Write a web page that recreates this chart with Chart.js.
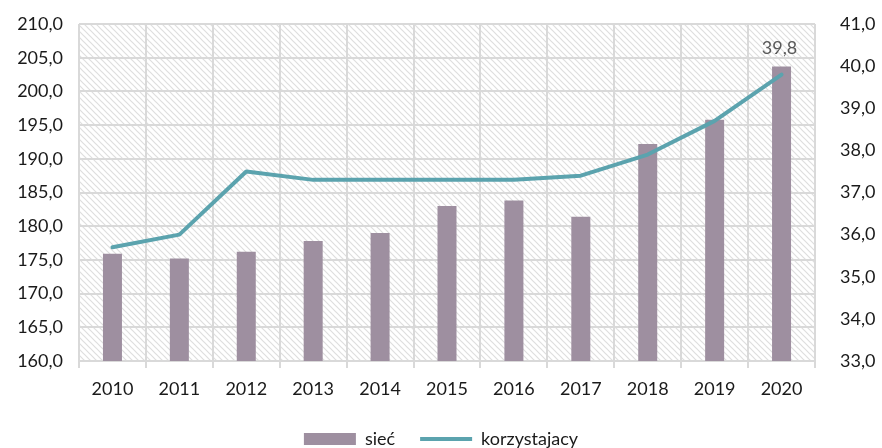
<!DOCTYPE html>
<html>
<head>
<meta charset="utf-8">
<script src="https://cdn.jsdelivr.net/npm/chart.js@4.4.1/dist/chart.umd.min.js"></script>
<style>
  html, body { margin: 0; padding: 0; background: #ffffff; }
  #wrap { width: 882px; height: 448px; position: relative; }
</style>
</head>
<body>
<div id="wrap"><canvas id="c" width="882" height="448"></canvas></div>
<script>
// ---- data ----
const years = ['2010','2011','2012','2013','2014','2015','2016','2017','2018','2019','2020'];
const siec = [175.9, 175.2, 176.2, 177.8, 179.0, 183.0, 183.8, 181.4, 192.2, 195.8, 203.7];
const korzystajacy = [35.7, 36.0, 37.5, 37.3, 37.3, 37.3, 37.3, 37.4, 37.9, 38.7, 39.8];
const seriesNames = ['sieć', 'korzystajacy'];
const leftTicks = { min: 160, max: 210, step: 5 };
const rightTicks = { min: 33, max: 41, step: 1 };

const FONT = "Lato, 'Open Sans', sans-serif";
const fmt = v => Number(v).toFixed(1).replace('.', ',');

// hatch pattern for the plot background
function makePattern(ctx) {
  const t = document.createElement('canvas');
  t.width = 6; t.height = 6;
  const g = t.getContext('2d');
  g.fillStyle = '#ffffff';
  g.fillRect(0, 0, 6, 6);
  g.strokeStyle = '#dedede';
  g.lineWidth = 1.2;
  g.beginPath();
  g.moveTo(-1, -1); g.lineTo(7, 7);
  g.moveTo(-7, -1); g.lineTo(1, 7);
  g.moveTo(5, -1); g.lineTo(13, 7);
  g.stroke();
  return ctx.createPattern(t, 'repeat');
}

const bgPlugin = {
  id: 'hatchBg',
  beforeDraw(chart) {
    const { ctx, chartArea: a } = chart;
    ctx.save();
    ctx.fillStyle = makePattern(ctx);
    ctx.fillRect(a.left, a.top, a.right - a.left, a.bottom - a.top);
    ctx.restore();
  }
};

const legendShift = {
  id: 'legendShift',
  afterLayout(chart) {
    if (chart.legend) { chart.legend.top += 10; chart.legend.bottom += 10; }
  }
};

const lastLabel = {
  id: 'lastLabel',
  afterDatasetsDraw(chart) {
    const meta = chart.getDatasetMeta(0);
    const i = korzystajacy.length - 1;
    const el = meta.data[i];
    if (!el) return;
    const { ctx } = chart;
    ctx.save();
    ctx.font = "18px " + FONT;
    ctx.fillStyle = '#595959';
    ctx.textAlign = 'center';
    ctx.textBaseline = 'middle';
    ctx.fillText(fmt(korzystajacy[i]), el.x - 2, el.y - 26);
    ctx.restore();
  }
};

new Chart(document.getElementById('c'), {
  data: {
    labels: years,
    datasets: [
      {
        type: 'line',
        label: seriesNames[1],
        data: korzystajacy,
        yAxisID: 'y1',
        borderColor: '#5BA3AE',
        backgroundColor: '#5BA3AE',
        borderWidth: 4,
        pointRadius: 0,
        pointHoverRadius: 0,
        pointStyle: 'line',
        tension: 0,
        borderCapStyle: 'round',
        borderJoinStyle: 'round'
      },
      {
        type: 'bar',
        label: seriesNames[0],
        data: siec,
        yAxisID: 'y',
        backgroundColor: '#9E8FA0',
        borderWidth: 0,
        categoryPercentage: 1,
        barPercentage: 0.284,
        pointStyle: 'rect'
      }
    ]
  },
  options: {
    responsive: false,
    animation: false,
    layout: { padding: { top: 24, right: 0, bottom: 0, left: 0 } },
    plugins: {
      tooltip: { enabled: false },
      legend: {
        position: 'bottom',
        labels: {
          usePointStyle: true,
          pointStyleWidth: 52,
          boxWidth: 52,
          boxHeight: 12,
          padding: 25,
          color: '#1a1a1a',
          font: { family: FONT, size: 18 },
          sort: (a, b) => b.datasetIndex - a.datasetIndex
        }
      }
    },
    scales: {
      x: {
        type: 'category',
        offset: true,
        grid: { offset: true, color: '#d9d9d9', lineWidth: 2, drawTicks: true, tickLength: 7 },
        border: { color: '#d9d9d9', width: 2 },
        ticks: { color: '#1a1a1a', font: { family: FONT, size: 18 }, padding: 10, maxRotation: 0 },
        afterFit(s) { s.height = 34; }
      },
      y: {
        position: 'left',
        min: leftTicks.min, max: leftTicks.max,
        grid: { color: '#d9d9d9', lineWidth: 2, drawTicks: true, tickLength: 16, tickColor: 'rgba(0,0,0,0)' },
        border: { display: false },
        ticks: { stepSize: leftTicks.step, color: '#1a1a1a', font: { family: FONT, size: 18 }, padding: 0, callback: v => fmt(v) },
        afterFit(s) { s.width = 79; }
      },
      y1: {
        position: 'right',
        min: rightTicks.min, max: rightTicks.max,
        grid: { display: true, drawOnChartArea: false, drawTicks: true, tickLength: 25, color: 'rgba(0,0,0,0)', tickColor: 'rgba(0,0,0,0)' },
        border: { display: false },
        ticks: { stepSize: rightTicks.step, color: '#1a1a1a', font: { family: FONT, size: 18 }, padding: 0, callback: v => fmt(v) },
        afterFit(s) { s.width = 67; }
      }
    }
  },
  plugins: [bgPlugin, legendShift, lastLabel]
});
</script>
</body>
</html>
